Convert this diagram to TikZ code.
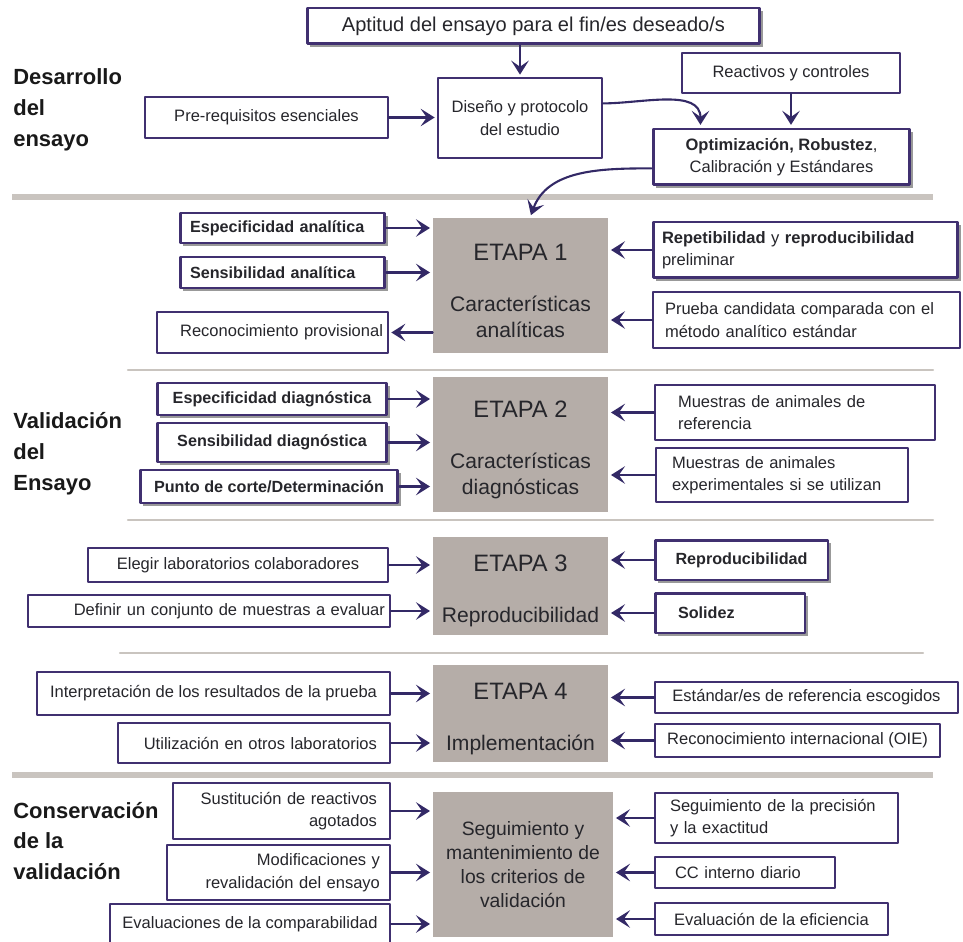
\documentclass[tikz,border=0pt]{standalone}
\usepackage{fontspec}
\setmainfont{Liberation Sans}
\usetikzlibrary{arrows.meta,shadows}
\definecolor{ttqqcc}{rgb}{0.25,0.19,0.44}
\definecolor{ttqqbb}{rgb}{0.2,0.16,0.4}
\definecolor{zzyyxx}{rgb}{0.71,0.68,0.66}
\definecolor{yyxxww}{rgb}{0.79,0.77,0.75}
\definecolor{qqqqtt}{rgb}{0.15,0.15,0.17}
\newcommand{\etapa}[1]{{\fontsize{13.5}{16}\selectfont\rule{0pt}{15.5pt}ETAPA #1}}

\begin{document}
\begin{tikzpicture}[line cap=round,line join=round,>={Stealth[length=8pt,width=10pt,inset=3.5pt]},x=0.02cm,y=-0.02cm,
  tnbox/.style={draw=ttqqcc,line width=0.8pt,fill=white,inner sep=2pt,text=qqqqtt,font=\fontsize{9.4}{12.8}\selectfont},
  tkbox/.style={tnbox,line width=1.7pt,drop shadow={shadow xshift=1.6pt,shadow yshift=-1.6pt,fill=black!40,opacity=1}},
  bftext/.style={font=\bfseries\fontsize{9.2}{12.8}\selectfont},
  etapa/.style={fill=zzyyxx,text=qqqqtt,align=center,inner sep=0pt,font=\fontsize{12}{15}\selectfont},
  side/.style={anchor=west,align=left,inner sep=0pt,text=black!90,font=\bfseries\fontsize{12.5}{17.6}\selectfont},
  sepk/.style={draw=yyxxww,line width=3.2pt,line cap=butt},
  sepn/.style={draw=yyxxww,line width=1.4pt},
  conn/.style={->,draw=ttqqbb,line width=1.2pt,shorten >=1.5pt}]
\useasboundingbox (0,0) rectangle (963,942);
\clip (0,0) rectangle (963,942);
% separadores
\draw[sepk] (12,197) -- (933,197);
\draw[sepn] (128,370) -- (933,370);
\draw[sepn] (128,520) -- (933,520);
\draw[sepn] (120,653) -- (923,653);
\draw[sepk] (12,775) -- (933,775);
% etiquetas laterales
\node[side] (lab1) at (13,110) {Desarrollo\\del\\ensayo};
\node[side] (lab2) at (13,454) {Validación\\del\\Ensayo};
\node[side] (lab3) at (13,841) {Conservación\\de la\\validación};
% desarrollo
\node[tkbox,font=\fontsize{11.4}{13}\selectfont,minimum width=9.06cm,minimum height=0.72cm] (apt) at (533.5,26) {Aptitud del ensayo para el fin/es deseado/s};
\node[tnbox,align=center,minimum width=3.28cm,minimum height=1.6cm] (dis) at (520,118) {Diseño y protocolo\\del estudio};
\node[tnbox,minimum width=4.86cm,minimum height=0.82cm] (pre) at (266.5,117.5) {Pre-requisitos esenciales};
\node[tnbox,minimum width=4.36cm,minimum height=0.8cm] (rea) at (791,73) {Reactivos y controles};
\node[tkbox,align=center,minimum width=5.14cm,minimum height=1.12cm] (opt) at (781.5,157) {\textbf{Optimización, Robustez},\\Calibración y Estándares};
\draw[conn] (dis.north |- apt.south) -- (dis.north);
\draw[conn] (pre) -- (pre -| dis.west);
\draw[conn] (rea.south) -- (rea.south |- opt.north);
\draw[conn] (dis.10) to[out=0,in=90] (opt.160);
% etapa 1
\node[etapa,minimum width=3.5cm,minimum height=2.7cm] (e1) at (520.5,285.5) {\etapa{1}\\[14pt]Características\\analíticas};
\node[tkbox,bftext,align=left,text width=3.7cm,inner xsep=0.2cm,minimum height=0.6cm] (ea) at (282.5,228) {Especificidad analítica};
\node[tkbox,bftext,align=left,text width=3.7cm,inner xsep=0.2cm,minimum height=0.62cm] (sa) at (282.5,272.5) {Sensibilidad analítica};
\node[tnbox,align=right,text width=4.42cm,inner xsep=0.1cm,minimum height=0.82cm] (rp) at (272.5,332.5) {Reconocimiento provisional};
\node[tkbox,align=left,text width=5.74cm,inner xsep=0.18cm,minimum height=1.12cm] (rr) at (805.5,250) {\textbf{Repetibilidad} y \textbf{reproducibilidad}\\preliminar};
\node[tnbox,align=left,text width=5.66cm,inner xsep=0.24cm,minimum height=1.12cm] (pc) at (806.5,320) {Prueba candidata comparada con el\\método analítico estándar};
\draw[conn] (opt.185) to[out=180,in=70] (e1.82);
\draw[conn] (ea) -- (ea -| e1.west);
\draw[conn] (sa) -- (sa -| e1.west);
\draw[conn] (rp -| e1.west) -- (rp);
\draw[conn] (rr) -- (rr -| e1.east);
\draw[conn] (pc) -- (pc -| e1.east);
% etapa 2
\node[etapa,minimum width=3.5cm,minimum height=2.7cm] (e2) at (520.5,444.5) {\etapa{2}\\[14pt]Características\\diagnósticas};
\node[tkbox,bftext,minimum width=4.6cm,minimum height=0.64cm] (ed) at (272,399) {Especificidad diagnóstica};
\node[tkbox,bftext,minimum width=4.6cm,minimum height=0.78cm] (sd) at (272,442.5) {Sensibilidad diagnóstica};
\node[tkbox,bftext,minimum width=5.16cm,minimum height=0.66cm] (pd) at (269,486.5) {Punto de corte/Determinación};
\node[tnbox,align=left,text width=4.68cm,inner xsep=0.46cm,minimum height=1.1cm] (mr) at (795,412.5) {Muestras de animales de\\referencia};
\node[tnbox,align=left,text width=4.4cm,inner xsep=0.32cm,minimum height=1.08cm] (me) at (782,475) {Muestras de animales\\experimentales si se utilizan};
\draw[conn] (ed) -- (ed -| e2.west);
\draw[conn] (sd) -- (sd -| e2.west);
\draw[conn] (pd) -- (pd -| e2.west);
\draw[conn] (mr) -- (mr -| e2.east);
\draw[conn] (me) -- (me -| e2.east);
% etapa 3
\node[etapa,minimum width=3.5cm,minimum height=1.96cm] (e3) at (520.5,586) {\etapa{3}\\[14pt]Reproducibilidad};
\node[tnbox,minimum width=6cm,minimum height=0.68cm] (el) at (238,565) {Elegir laboratorios colaboradores};
\node[tnbox,align=right,text width=7.04cm,inner xsep=0.1cm,minimum height=0.64cm] (dm) at (209,611) {Definir un conjunto de muestras a evaluar};
\node[tkbox,bftext,minimum width=3.46cm,minimum height=0.8cm] (rep) at (741.5,560) {Reproducibilidad};
\node[tkbox,bftext,align=left,text width=2.08cm,inner xsep=0.46cm,minimum height=0.8cm] (sol) at (730,613) {Solidez};
\draw[conn] (el) -- (el -| e3.west);
\draw[conn] (dm) -- (dm -| e3.west);
\draw[conn] (rep) -- (rep -| e3.east);
\draw[conn] (sol) -- (sol -| e3.east);
% etapa 4
\node[etapa,minimum width=3.5cm,minimum height=1.94cm] (e4) at (520.5,713.5) {\etapa{4}\\[14pt]Implementación};
\node[tnbox,minimum width=7.06cm,minimum height=0.86cm] (ir) at (213.5,693.5) {Interpretación de los resultados de la prueba};
\node[tnbox,align=right,text width=4.92cm,inner xsep=0.26cm,minimum height=0.8cm] (uo) at (254,743) {Utilización en otros laboratorios};
\node[tnbox,minimum width=6.06cm,minimum height=0.62cm] (es) at (806.5,697.5) {Estándar/es de referencia escogidos};
\node[tnbox,minimum width=5.7cm,minimum height=0.66cm] (ri) at (797.5,740.5) {Reconocimiento internacional (OIE)};
\draw[conn] (ir) -- (ir -| e4.west);
\draw[conn] (uo) -- (uo -| e4.west);
\draw[conn] (es) -- (es -| e4.east);
\draw[conn] (ri) -- (ri -| e4.east);
% conservacion
\node[etapa,font=\fontsize{11}{13.6}\selectfont,minimum width=3.6cm,minimum height=2.9cm] (e5) at (523,864.5) {Seguimiento y\\mantenimiento de\\los criterios de\\validación};
\node[tnbox,align=right,text width=3.82cm,inner xsep=0.26cm,minimum height=1.12cm] (sr) at (281.5,811) {Sustitución de reactivos\\agotados};
\node[tnbox,align=right,text width=4.06cm,inner xsep=0.2cm,minimum height=1.1cm] (mo) at (278.5,872.5) {Modificaciones y\\revalidación del ensayo};
\node[tnbox,minimum width=5.6cm,minimum height=0.8cm] (ev) at (250,924) {Evaluaciones de la comparabilidad};
\node[tnbox,align=left,text width=4.26cm,inner xsep=0.3cm,minimum height=1cm] (sp) at (776.5,818) {Seguimiento de la precisión\\y la exactitud};
\node[tnbox,align=left,text width=2.8cm,inner xsep=0.4cm,minimum height=0.62cm] (cc) at (745,872.5) {CC interno diario};
\node[tnbox,minimum width=4.66cm,minimum height=0.64cm] (ee) at (771.5,919) {Evaluación de la eficiencia};
\draw[conn] (sr) -- (sr -| e5.west);
\draw[conn] (mo) -- (mo -| e5.west);
\draw[conn] (ev) -- (ev -| e5.west);
\draw[conn] (sp) -- (sp -| e5.east);
\draw[conn] (cc) -- (cc -| e5.east);
\draw[conn] (ee) -- (ee -| e5.east);
\end{tikzpicture}
\end{document}
